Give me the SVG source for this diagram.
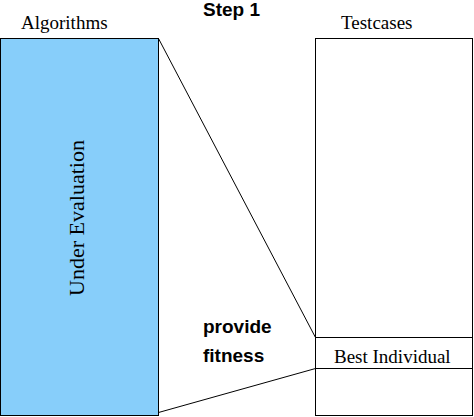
<svg xmlns="http://www.w3.org/2000/svg" width="474" height="417" viewBox="0 0 474 417">
<style>
.box{stroke:#000;stroke-width:1}
.serif{font-family:"Liberation Serif","Times New Roman",serif;font-size:19px;fill:#000}
.bold{font-family:"Liberation Sans",Arial,sans-serif;font-weight:bold;font-size:19px;fill:#000}
.conn{stroke:#000;stroke-width:1;fill:none}
</style>
<rect x="0" y="0" width="474" height="417" fill="#fff"/>
<text class="bold" x="203" y="16">Step 1</text>
<g id="algorithms">
<rect class="box" x="0.5" y="38.5" width="158" height="377" fill="#87CEFA"/>
<text class="serif" x="21" y="29">Algorithms</text>
<text class="serif" transform="translate(84,218) rotate(-90)" text-anchor="middle" style="font-size:22px">Under Evaluation</text>
</g>
<g id="testcases">
<rect class="box" x="315.5" y="38.5" width="157" height="377" fill="#fff"/>
<text class="serif" x="341" y="29">Testcases</text>
</g>
<g id="best-individual">
<rect class="box" x="315.5" y="337.5" width="157" height="31" fill="none"/>
<text class="serif" x="334" y="363">Best Individual</text>
</g>
<g id="connectors">
<line class="conn" x1="158.5" y1="38.5" x2="315.5" y2="337.5"/>
<line class="conn" x1="158.5" y1="412.5" x2="315.5" y2="368.5"/>
</g>
<text class="bold" x="203" y="333">provide</text>
<text class="bold" x="203" y="362">fitness</text>
</svg>
